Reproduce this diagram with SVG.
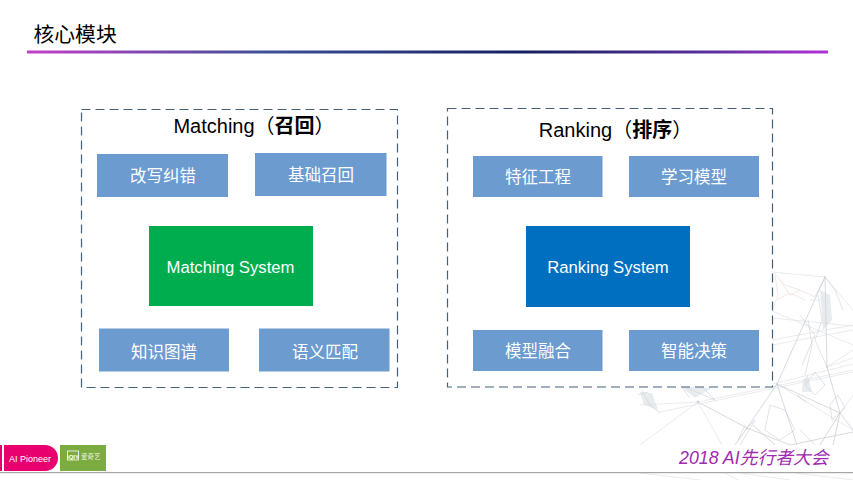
<svg xmlns="http://www.w3.org/2000/svg" width="853" height="480" viewBox="0 0 853 480">
<style>
.cjk{font-family:"Liberation Sans","Noto Sans CJK SC",sans-serif}
.frame{fill:#fff;stroke:#44617b;stroke-width:1.2;stroke-dasharray:9 5}
.sub{fill:#6c9bd0}
.sl{font-size:16.500px;fill:#fff;text-anchor:middle}
.hd{font-size:20px;fill:#000;text-anchor:middle}
.sys{font-size:16.700px;fill:#fff;text-anchor:middle}
.n1{fill:none;stroke:#ccd0d7;stroke-width:.8}
.n2{fill:none;stroke:#e3e6ea;stroke-width:.8}
.n3{fill:none;stroke:#c3c9d2;stroke-width:.7;opacity:.75}
.pk{fill:none;stroke:#f5e3e4;stroke-width:.9}
</style>
<defs>
<linearGradient id="rule" x1="0" x2="1" y1="0" y2="0">
<stop offset="0" stop-color="#c33fc8"/><stop offset=".3" stop-color="#3b4f96"/><stop offset=".62" stop-color="#14205f"/><stop offset=".85" stop-color="#5a2f9c"/><stop offset="1" stop-color="#b030d8"/>
</linearGradient>
</defs>
<rect width="853" height="480" fill="#fff"/>
<g id="network">
<path class="n2" d="M825 277L770 272M825 277L853 310M772 318L853 326M772 311L853 345M772 340L853 325M772 345L853 330M773 384L853 364M827 367L853 358M777 384L853 430M827 367L853 350M840 413L853 395M640 405L698 402M698 402L853 370M698 402L640 445M698 402L722 445M660 412L853 372"/>
<path class="n1" d="M825 277L777 384M825 277L827 367M777 384L797 445M777 384L747 428M698 402L747 428M747 428L790 445M840 413L853 430M840 413L833 445M820 445L840 413M777 384L840 413M827 367L840 413M747 428L735 445M790 445L853 432M775 445L753 425M797 395L806 402"/>
<path class="n3" d="M815 297L825 277L835 290L843 310M818 295L822 320L815 340L827 367M808 320L812 345L805 375M800 315L815 335L802 365M805 385L815 372L825 385L815 395ZM830 405L838 395L845 408L832 420ZM770 405L785 410L795 430L780 440L765 430ZM642 390L650 405L660 413M648 392L638 395M700 385L715 400L680 385L690 398M745 430L755 420L740 445M745 425L738 440M800 430L815 445"/>
<path class="pk" d="M773 272L785 285L800 290L815 297M775 275L778 295L773 308M780 280L790 295L800 290M776 300L790 293L805 300"/>
<g fill="#cfd5dc">
<circle cx="825" cy="277" r="1"/><circle cx="777" cy="384" r="1"/><circle cx="827" cy="367" r="1"/><circle cx="698" cy="402" r="1.400"/><circle cx="747" cy="428" r="1.200"/><circle cx="840" cy="413" r="1"/>
<path d="M803 380L808 375L812 392L802 392ZM640 392L652 393L658 410L644 405ZM680 386L712 388L695 398ZM820 290L830 295L832 320L823 330Z" opacity=".45"/>
</g>
<path class="n2" d="M810 300L828 300M665 385H700"/>
<path class="n2" d="M640 473L700 480M725 473L738 480M740 473L790 480M795 473L853 480"/>
</g>
<rect x="0" y="445" width="853" height="27" fill="#fff"/>
<g id="title">
<text x="33.500" y="42" class="cjk" font-size="20.800" fill="#000">核心模块</text>
<rect x="27" y="50.500" width="801" height="3" fill="url(#rule)"/>
</g>
<g id="matching-frame"><rect class="frame" x="81.500" y="109.500" width="316" height="278"/><text class="hd cjk" x="254" y="133">Matching（<tspan font-weight="700">召回</tspan>）</text></g>
<g id="ranking-frame"><rect class="frame" x="447.500" y="108.500" width="325" height="278.500"/><text class="hd cjk" x="615.500" y="137">Ranking（<tspan font-weight="700">排序</tspan>）</text></g>
<g id="m1"><rect class="sub" x="97" y="154" width="131" height="43"/><text class="sl cjk" x="163" y="182">改写纠错</text></g>
<g id="m2"><rect class="sub" x="255" y="153" width="131.500" height="43"/><text class="sl cjk" x="321" y="180.500">基础召回</text></g>
<g id="m-sys"><rect x="149" y="226" width="164" height="80" fill="#00ad4e"/><text class="sys cjk" x="230.500" y="272.500">Matching System</text></g>
<g id="m3"><rect class="sub" x="99" y="328.500" width="130" height="43"/><text class="sl cjk" x="164" y="357.500">知识图谱</text></g>
<g id="m4"><rect class="sub" x="259" y="328.500" width="130.500" height="43"/><text class="sl cjk" x="325" y="357.500">语义匹配</text></g>
<g id="r1"><rect class="sub" x="473" y="156" width="129.500" height="41"/><text class="sl cjk" x="538" y="182.500">特征工程</text></g>
<g id="r2"><rect class="sub" x="629" y="156" width="130" height="41"/><text class="sl cjk" x="694" y="182.500">学习模型</text></g>
<g id="r-sys"><rect x="526" y="226" width="164" height="81" fill="#006fc0"/><text class="sys cjk" x="608" y="272.500">Ranking System</text></g>
<g id="r3"><rect class="sub" x="473" y="330" width="129.500" height="41"/><text class="sl cjk" x="538" y="357">模型融合</text></g>
<g id="r4"><rect class="sub" x="629" y="330" width="130" height="41"/><text class="sl cjk" x="694" y="357">智能决策</text></g>
<g id="footer">
<rect x="0" y="472" width="853" height="1.200" fill="#a6a6a6"/>
<rect x="0" y="445" width="2" height="26" fill="#e8006f"/>
<path d="M4 445H45A13 13 0 0 1 58 458A13 13 0 0 1 45 471H4Z" fill="#e8006f"/>
<text x="9" y="462" class="cjk" font-size="9" fill="#fff">AI Pioneer</text>
<rect x="60" y="445" width="46" height="26" fill="#7cab3f"/>
<rect x="67.500" y="451" width="11" height="9" fill="none" stroke="#fff" stroke-width=".8"/>
<text x="73" y="458.500" class="cjk" font-size="6" font-weight="700" fill="#fff" text-anchor="middle">iQIY</text>
<text x="81" y="459" class="cjk" font-size="6.500" fill="#e6f0d8">爱奇艺</text>
<text x="679" y="464" class="cjk" font-size="17.800" font-style="italic" fill="#9f2bb0">2018 AI先行者大会</text>
</g>
</svg>
